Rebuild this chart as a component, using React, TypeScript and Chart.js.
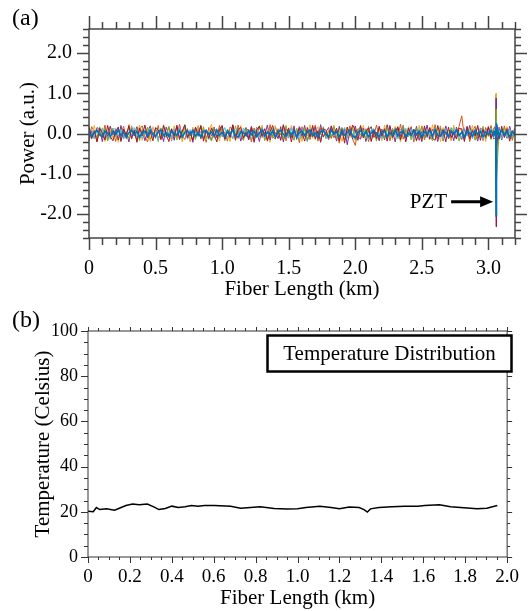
import React, { useEffect, useRef } from "react";
import { Chart, registerables } from "chart.js";

Chart.register(...registerables);

// ---------- Panel (a) data ----------
const LENGTHS_A = [
  0, 0.02, 0.04, 0.06, 0.08, 0.1, 0.12, 0.14, 0.16, 0.18,
  0.2, 0.22, 0.24, 0.26, 0.28, 0.3, 0.32, 0.34, 0.36, 0.38,
  0.4, 0.42, 0.44, 0.46, 0.48, 0.5, 0.52, 0.54, 0.56, 0.58,
  0.6, 0.62, 0.64, 0.66, 0.68, 0.7, 0.72, 0.74, 0.76, 0.78,
  0.8, 0.82, 0.84, 0.86, 0.88, 0.9, 0.92, 0.94, 0.96, 0.98,
  1.0, 1.02, 1.04, 1.06, 1.08, 1.1, 1.12, 1.14, 1.16, 1.18,
  1.2, 1.22, 1.24, 1.26, 1.28, 1.3, 1.32, 1.34, 1.36, 1.38,
  1.4, 1.42, 1.44, 1.46, 1.48, 1.5, 1.52, 1.54, 1.56, 1.58,
  1.6, 1.62, 1.64, 1.66, 1.68, 1.7, 1.72, 1.74, 1.76, 1.78,
  1.8, 1.82, 1.84, 1.86, 1.88, 1.9, 1.92, 1.94, 1.96, 1.98,
  2.0, 2.02, 2.04, 2.06, 2.08, 2.1, 2.12, 2.14, 2.16, 2.18,
  2.2, 2.22, 2.24, 2.26, 2.28, 2.3, 2.32, 2.34, 2.36, 2.38,
  2.4, 2.42, 2.44, 2.46, 2.48, 2.5, 2.52, 2.54, 2.56, 2.58,
  2.6, 2.62, 2.64, 2.66, 2.68, 2.7, 2.72, 2.74, 2.76, 2.78,
  2.8, 2.82, 2.84, 2.86, 2.88, 2.9, 2.92, 2.94, 2.96, 2.98,
  3.0, 3.02, 3.04,
  3.055, 3.058, 3.061,
  3.08, 3.1, 3.12, 3.14, 3.16, 3.18, 3.2,
];

const POWER_BLUE = [
  0.04, -0.06, 0.02, 0.08, -0.03, -0.08, 0.05, 0.01, -0.07, 0.06,
  -0.02, 0.09, -0.05, 0.03, -0.09, 0.02, 0.07, -0.04, 0.05, -0.08,
  0.01, 0.06, -0.06, 0.08, -0.02, -0.07, 0.04, 0.09, -0.05, 0.02,
  -0.08, 0.05, 0.0, -0.04, 0.07, -0.09, 0.03, 0.06, -0.03, 0.08,
  -0.06, 0.02, -0.09, 0.05, 0.07, -0.02, 0.04, -0.07, 0.09, -0.04,
  0.03, -0.08, 0.06, -0.01, 0.08, -0.05, -0.09, 0.04, 0.02, -0.06,
  0.07, -0.03, 0.05, -0.08, 0.01, 0.09, -0.06, 0.03, -0.04, 0.06,
  -0.09, 0.04, 0.08, -0.02, -0.07, 0.05, -0.03, 0.07, -0.08, 0.02,
  0.06, -0.05, 0.03, 0.09, -0.06, 0.01, -0.09, 0.05, 0.07, -0.03,
  -0.07, 0.08, -0.01, 0.04, -0.08, 0.06, -0.04, 0.02, 0.09, -0.06,
  -0.1, 0.03, 0.07, -0.05, 0.05, -0.08, 0.01, 0.08, -0.03, -0.07,
  0.04, 0.06, -0.09, 0.02, -0.04, 0.09, -0.06, 0.03, 0.05, -0.08,
  0.01, -0.05, 0.08, -0.03, 0.06, -0.09, 0.04, -0.01, 0.07, -0.06,
  0.09, -0.04, -0.07, 0.05, 0.02, -0.08, 0.06, -0.02, 0.08, -0.05,
  0.03, -0.09, 0.06, 0.01, -0.06, 0.08, -0.03, 0.05, -0.07, 0.04,
  -0.02, 0.07, -0.05,
  0.1, -2.05, 0.25,
  -0.06, 0.08, -0.03, 0.05, -0.08, 0.04, -0.02,
];
const POWER_ORANGE = [
  -0.12, 0.17, 0.05, -0.19, 0.1, -0.06, 0.21, -0.15, 0.02, 0.13,
  -0.2, 0.08, -0.04, 0.18, -0.13, 0.22, -0.09, 0.03, -0.17, 0.11,
  0.19, -0.07, -0.21, 0.14, 0.04, -0.12, 0.2, -0.16, 0.07, -0.03,
  0.16, -0.18, 0.09, -0.1, 0.23, -0.05, -0.15, 0.12, -0.2, 0.06,
  0.02, 0.18, -0.14, 0.08, -0.22, 0.15, -0.06, 0.11, -0.11, 0.2,
  -0.08, 0.04, -0.19, 0.16, 0.09, -0.13, 0.21, -0.02, -0.17, 0.13,
  0.07, -0.21, 0.14, -0.05, 0.19, -0.1, 0.03, -0.16, 0.22, -0.08,
  -0.14, 0.12, -0.03, 0.2, -0.18, 0.06, 0.15, -0.12, 0.1, -0.23,
  0.17, -0.06, 0.09, -0.15, 0.04, 0.21, -0.19, 0.13, -0.07, 0.02,
  -0.16, 0.18, -0.11, 0.07, -0.24, 0.14, 0.05, -0.09, 0.19, -0.13,
  -0.3, 0.1, 0.16, -0.07, 0.12, -0.2, 0.08, -0.04, 0.21, -0.15,
  0.06, -0.12, 0.2, -0.18, 0.03, 0.15, -0.09, 0.23, -0.14, 0.09,
  -0.05, 0.17, -0.21, 0.11, -0.08, 0.19, -0.16, 0.04, 0.13, -0.1,
  0.22, -0.13, 0.07, -0.19, 0.16, -0.02, -0.17, 0.1, -0.06, 0.18,
  0.44, -0.09, 0.14, -0.2, 0.05, 0.18, -0.12, 0.09, -0.18, 0.15,
  -0.07, 0.2, -0.14,
  -0.1, 0.98, -0.6,
  0.16, -0.11, 0.19, -0.05, 0.12, -0.17, 0.08,
];
const POWER_YELLOW = [
  0.14, -0.09, 0.2, -0.16, -0.03, 0.11, -0.2, 0.07, 0.18, -0.12,
  0.05, -0.22, 0.15, 0.02, -0.1, 0.19, -0.14, 0.09, -0.05, 0.21,
  -0.17, 0.06, 0.12, -0.2, 0.17, -0.04, 0.08, -0.13, 0.22, -0.09,
  0.03, -0.15, 0.19, -0.07, 0.1, -0.21, 0.14, 0.01, -0.18, 0.16,
  -0.11, 0.2, -0.05, 0.13, -0.16, 0.06, 0.23, -0.12, 0.04, -0.19,
  0.15, -0.08, 0.09, -0.2, 0.18, -0.03, -0.14, 0.2, -0.1, 0.07,
  -0.05, 0.16, -0.18, 0.11, -0.02, 0.21, -0.15, 0.08, -0.22, 0.13,
  0.19, -0.11, 0.04, -0.17, 0.15, -0.07, 0.2, -0.13, 0.06, 0.1,
  -0.2, 0.14, -0.06, 0.22, -0.12, 0.03, 0.17, -0.19, 0.11, -0.04,
  0.08, -0.14, 0.21, -0.09, 0.13, -0.2, 0.05, 0.16, -0.1, 0.19,
  -0.15, 0.07, -0.12, 0.2, -0.03, 0.15, -0.19, 0.1, -0.08, 0.14,
  -0.18, 0.21, -0.06, 0.09, -0.15, 0.18, 0.02, -0.21, 0.12, -0.04,
  0.17, -0.1, 0.06, -0.19, 0.2, -0.13, 0.08, -0.06, -0.16, 0.22,
  -0.08, 0.12, -0.2, 0.15, -0.04, 0.1, -0.17, 0.21, -0.11, 0.05,
  0.13, -0.18, 0.09, -0.07, 0.2, -0.14, 0.16, -0.02, 0.11, -0.2,
  0.18, -0.09, 0.14,
  0.15, 1.0, -0.45,
  -0.15, 0.1, -0.08, 0.17, -0.13, 0.06, 0.12,
];
const POWER_PURPLE = [
  -0.19, 0.06, -0.12, 0.15, 0.09, -0.2, 0.12, -0.07, 0.18, -0.04,
  0.1, -0.16, 0.2, -0.11, 0.04, -0.21, 0.14, -0.02, 0.17, -0.13,
  0.08, -0.18, 0.03, 0.19, -0.09, 0.13, -0.15, 0.06, -0.2, 0.16,
  -0.05, 0.11, -0.17, 0.21, -0.12, 0.02, 0.18, -0.1, 0.07, -0.22,
  0.14, -0.06, 0.19, -0.14, 0.1, -0.03, -0.18, 0.16, -0.09, 0.05,
  0.2, -0.15, 0.07, -0.1, 0.22, -0.06, 0.12, -0.19, 0.04, 0.15,
  -0.12, 0.18, -0.08, 0.03, -0.2, 0.14, -0.04, 0.21, -0.16, 0.09,
  0.02, -0.13, 0.17, -0.21, 0.11, 0.06, -0.1, 0.19, -0.15, 0.13,
  -0.07, 0.2, -0.18, 0.08, -0.03, 0.16, -0.12, 0.22, -0.09, 0.04,
  0.15, -0.11, 0.06, -0.19, 0.18, -0.05, 0.12, -0.28, 0.09, -0.14,
  0.19, -0.08, -0.14, 0.13, -0.2, 0.07, 0.17, -0.1, 0.03, -0.18,
  0.11, -0.16, 0.22, -0.05, 0.09, -0.21, 0.14, -0.07, 0.2, -0.12,
  -0.03, 0.15, -0.11, 0.18, -0.17, 0.05, -0.08, 0.21, -0.14, 0.1,
  0.06, -0.2, 0.13, -0.09, 0.19, -0.13, 0.08, -0.18, 0.16, -0.02,
  -0.15, 0.11, -0.06, 0.2, -0.1, 0.03, -0.19, 0.14, 0.07, -0.12,
  0.17, -0.08, 0.1,
  0.2, 0.88, -0.3,
  0.11, -0.16, 0.05, -0.12, 0.18, -0.07, 0.14,
];
const POWER_GREEN = [
  0.09, -0.14, 0.03, -0.1, 0.17, -0.05, 0.13, -0.19, 0.06, 0.11,
  -0.08, 0.15, -0.17, 0.07, 0.01, -0.12, 0.19, -0.06, 0.1, -0.18,
  0.12, -0.03, 0.16, -0.14, -0.06, 0.09, -0.2, 0.14, 0.02, -0.1,
  0.18, -0.08, 0.05, -0.16, 0.12, -0.04, 0.2, -0.13, -0.02, 0.08,
  -0.15, 0.1, -0.07, 0.17, -0.11, 0.04, -0.19, 0.13, 0.06, -0.09,
  0.14, -0.18, 0.11, 0.03, -0.13, 0.19, -0.05, 0.08, -0.16, 0.12,
  -0.02, 0.07, -0.15, 0.16, -0.09, 0.12, -0.18, 0.05, 0.1, -0.12,
  0.16, -0.06, 0.09, -0.13, 0.2, -0.1, 0.04, -0.17, 0.13, -0.04,
  -0.11, 0.14, -0.2, 0.06, 0.11, -0.15, 0.08, -0.03, 0.17, -0.13,
  0.05, -0.09, 0.18, -0.12, 0.02, 0.15, -0.16, 0.1, -0.06, 0.13,
  -0.17, 0.12, -0.04, 0.09, -0.14, 0.18, -0.08, 0.04, -0.19, 0.15,
  0.03, -0.12, 0.16, -0.1, 0.13, -0.05, 0.08, -0.17, 0.19, -0.07,
  0.1, -0.16, 0.05, 0.14, -0.09, 0.17, -0.13, 0.07, -0.04, -0.18,
  0.13, -0.07, 0.19, -0.14, 0.06, -0.1, 0.15, -0.03, 0.11, -0.19,
  0.07, -0.13, 0.16, -0.05, 0.1, -0.17, 0.04, -0.09, 0.18, -0.11,
  0.06, -0.15, 0.12,
  -0.1, 0.6, -1.2,
  0.09, -0.05, 0.13, -0.1, 0.04, -0.14, 0.08,
];
const POWER_CYAN = [
  -0.05, 0.11, -0.13, 0.08, -0.02, 0.14, -0.1, 0.04, -0.15, 0.09,
  0.13, -0.06, 0.1, -0.14, 0.05, 0.12, -0.08, 0.15, -0.11, 0.02,
  -0.12, 0.07, -0.03, 0.14, -0.09, 0.11, -0.15, 0.06, 0.09, -0.07,
  0.04, -0.13, 0.12, -0.05, 0.15, -0.1, 0.02, -0.14, 0.1, -0.03,
  0.14, -0.08, 0.06, -0.12, 0.09, -0.15, 0.13, -0.04, 0.07, -0.11,
  -0.02, 0.15, -0.1, 0.05, -0.13, 0.08, 0.11, -0.09, 0.14, -0.06,
  0.1, -0.14, 0.03, 0.12, -0.07, 0.15, -0.11, 0.06, -0.03, 0.13,
  -0.09, 0.05, -0.15, 0.1, 0.02, -0.12, 0.14, -0.06, 0.08, -0.14,
  0.12, -0.03, 0.09, -0.11, 0.15, -0.08, 0.04, -0.13, 0.11, -0.05,
  -0.14, 0.1, -0.06, 0.13, -0.1, 0.03, 0.15, -0.12, 0.07, -0.09,
  0.06, -0.11, 0.14, -0.04, 0.1, -0.15, 0.08, 0.12, -0.07, 0.03,
  -0.13, 0.09, -0.05, 0.15, -0.1, 0.06, -0.14, 0.11, -0.02, 0.13,
  -0.08, 0.12, -0.15, 0.04, 0.1, -0.06, 0.14, -0.11, 0.07, -0.13,
  0.11, -0.04, 0.08, -0.14, 0.13, -0.09, 0.05, 0.15, -0.12, 0.02,
  -0.1, 0.14, -0.07, 0.1, -0.13, 0.06, -0.02, 0.12, -0.15, 0.09,
  -0.04, 0.13, -0.1,
  0.1, -1.6, 0.2,
  0.08, -0.13, 0.06, -0.09, 0.12, -0.05, 0.1,
];
const POWER_RED = [
  0.18, -0.12, 0.07, -0.21, 0.13, 0.02, -0.16, 0.2, -0.08, -0.18,
  0.05, 0.16, -0.2, 0.11, -0.04, 0.19, -0.13, 0.08, -0.22, 0.14,
  -0.06, 0.21, -0.11, 0.04, -0.18, 0.15, 0.09, -0.14, 0.2, -0.03,
  -0.2, 0.12, -0.07, 0.18, -0.15, 0.06, 0.22, -0.1, 0.03, -0.17,
  0.16, -0.05, 0.2, -0.19, 0.08, -0.12, 0.14, -0.02, -0.21, 0.11,
  0.19, -0.14, 0.04, -0.08, 0.21, -0.17, 0.1, 0.15, -0.11, 0.03,
  -0.16, 0.13, -0.22, 0.09, 0.18, -0.06, 0.12, -0.19, 0.05, 0.2,
  -0.1, 0.07, -0.17, 0.22, -0.04, 0.14, -0.21, 0.1, -0.07, 0.17,
  0.03, -0.19, 0.15, -0.09, 0.2, -0.13, 0.06, -0.22, 0.12, 0.08,
  -0.12, 0.19, -0.03, 0.13, -0.18, 0.1, -0.24, 0.16, -0.05, 0.21,
  0.09, -0.17, 0.2, -0.11, 0.05, 0.14, -0.2, 0.07, -0.13, 0.18,
  -0.07, 0.12, -0.19, 0.2, -0.1, 0.03, 0.17, -0.15, 0.09, -0.21,
  0.14, -0.04, 0.11, -0.18, 0.06, -0.2, 0.19, -0.08, 0.15, -0.12,
  -0.17, 0.2, -0.06, 0.1, -0.21, 0.16, -0.1, 0.04, -0.14, 0.13,
  0.11, -0.2, 0.18, -0.13, 0.07, -0.06, 0.2, -0.17, 0.1, -0.08,
  0.15, -0.12, 0.05,
  0.05, -2.32, 0.1,
  -0.14, 0.18, -0.1, 0.12, -0.19, 0.07, -0.06,
];

const X_TICKS_A = [0, 0.5, 1, 1.5, 2, 2.5, 3];
const X_LABELS_A = ["0", "0.5", "1.0", "1.5", "2.0", "2.5", "3.0"];
const Y_TICKS_A = [-2, -1, 0, 1, 2];
const Y_LABELS_A = ["-2.0", "-1.0", "0.0", "1.0", "2.0"];

const PZT_LENGTH = 3.058;
const PZT_ARROW_LEVEL = -1.7;

// ---------- Panel (b) data ----------
const LENGTHS_B = [
  0, 0.025, 0.04, 0.056, 0.088, 0.127, 0.158, 0.181, 0.213, 0.244,
  0.283, 0.314, 0.338, 0.369, 0.4, 0.431, 0.463, 0.494, 0.525, 0.556,
  0.603, 0.681, 0.728, 0.775, 0.822, 0.888, 0.95, 1.0, 1.04, 1.106,
  1.16, 1.2, 1.247, 1.294, 1.317, 1.333, 1.348, 1.388, 1.45, 1.513,
  1.575, 1.606, 1.677, 1.73, 1.794, 1.856, 1.903, 1.953,
];
const TEMPERATURE = [
  20.3, 20.0, 21.9, 21.0, 21.3, 20.7, 21.9, 22.8, 23.4, 23.1,
  23.4, 22.2, 21.0, 21.5, 22.5, 21.9, 22.2, 22.8, 22.5, 22.8,
  22.8, 22.5, 21.6, 21.9, 22.2, 21.5, 21.2, 21.3, 21.9, 22.4,
  21.9, 21.3, 22.1, 21.9, 21.0, 19.9, 21.3, 21.9, 22.2, 22.5,
  22.5, 22.8, 23.1, 22.2, 21.8, 21.3, 21.6, 22.8,
];
const X_TICKS_B = [0, 0.2, 0.4, 0.6, 0.8, 1.0, 1.2, 1.4, 1.6, 1.8, 2.0];
const X_LABELS_B = ["0", "0.2", "0.4", "0.6", "0.8", "1.0", "1.2", "1.4", "1.6", "1.8", "2.0"];
const Y_TICKS_B = [0, 20, 40, 60, 80, 100];
const Y_LABELS_B = ["0", "20", "40", "60", "80", "100"];

const SERIF = "'Liberation Serif', 'Times New Roman', serif";

function makeFrameTicks(cfg: any) {
  return {
    id: "frameTicks",
    afterDatasetsDraw(chart: any) {
      const { ctx, chartArea: a, scales } = chart;
      const xs = scales.x;
      const ys = scales.y;
      ctx.save();
      ctx.strokeStyle = cfg.color;
      ctx.lineWidth = cfg.lw;
      ctx.lineCap = "butt";
      ctx.strokeRect(a.left, a.top, a.right - a.left, a.bottom - a.top);
      ctx.beginPath();
      const nx = Math.round((xs.max - xs.min) / cfg.xMinor);
      for (let i = 0; i <= nx; i++) {
        const v = xs.min + i * cfg.xMinor;
        const r = v / cfg.xMajor;
        const major = Math.abs(r - Math.round(r)) < 1e-6;
        const p = Math.round(xs.getPixelForValue(v)) + 0.5;
        ctx.moveTo(p, a.bottom);
        ctx.lineTo(p, a.bottom + (major ? cfg.xMajB : cfg.xMinB));
        ctx.moveTo(p, a.top);
        ctx.lineTo(p, a.top - (major ? cfg.xMajT : cfg.xMinT));
      }
      const ny = Math.round((ys.max - ys.min) / cfg.yMinor);
      for (let i = 0; i <= ny; i++) {
        const v = ys.min + i * cfg.yMinor;
        const r = v / cfg.yMajor;
        const major = Math.abs(r - Math.round(r)) < 1e-6;
        const p = Math.round(ys.getPixelForValue(v)) + 0.5;
        ctx.moveTo(a.left, p);
        ctx.lineTo(a.left - (major ? cfg.yMajL : cfg.yMinL), p);
        ctx.moveTo(a.right, p);
        ctx.lineTo(a.right + (major ? cfg.yMajR : cfg.yMinR), p);
      }
      ctx.stroke();
      ctx.restore();
    },
  };
}

const annotA = {
  id: "annotA",
  afterDraw(chart: any) {
    const { ctx, scales } = chart;
    ctx.save();
    ctx.fillStyle = "#000";
    ctx.font = `24px ${SERIF}`;
    ctx.textAlign = "left";
    ctx.textBaseline = "middle";
    ctx.fillText("(a)", 12, 19);
    const tipX = scales.x.getPixelForValue(PZT_LENGTH) - 3;
    const y = scales.y.getPixelForValue(PZT_ARROW_LEVEL);
    ctx.font = `21px ${SERIF}`;
    ctx.textAlign = "right";
    ctx.fillText("PZT", tipX - 46, y + 1);
    ctx.strokeStyle = "#000";
    ctx.lineWidth = 3;
    ctx.beginPath();
    ctx.moveTo(tipX - 42, y);
    ctx.lineTo(tipX - 10, y);
    ctx.stroke();
    ctx.beginPath();
    ctx.moveTo(tipX, y);
    ctx.lineTo(tipX - 13, y - 5.5);
    ctx.lineTo(tipX - 13, y + 5.5);
    ctx.closePath();
    ctx.fill();
    ctx.restore();
  },
};

const annotB = {
  id: "annotB",
  afterDraw(chart: any) {
    const { ctx, chartArea: a } = chart;
    ctx.save();
    ctx.fillStyle = "#000";
    ctx.font = `24px ${SERIF}`;
    ctx.textAlign = "left";
    ctx.textBaseline = "middle";
    ctx.fillText("(b)", 12, 21);
    const bx = a.left + 179.5;
    const by = a.top + 4.5;
    const bw = 244;
    const bh = 36;
    ctx.fillStyle = "#fff";
    ctx.fillRect(bx, by, bw, bh);
    ctx.strokeStyle = "#000";
    ctx.lineWidth = 2.5;
    ctx.strokeRect(bx, by, bw, bh);
    ctx.fillStyle = "#000";
    ctx.font = `21px ${SERIF}`;
    ctx.textAlign = "center";
    ctx.fillText("Temperature Distribution", bx + bw / 2, by + bh / 2 + 1);
    ctx.restore();
  },
};

function pts(xs: number[], ys: number[]) {
  return xs.map((x, i) => ({ x, y: ys[i] }));
}

function labelFrom(ticks: number[], labels: string[]) {
  return (v: any) => {
    const i = ticks.findIndex((t) => Math.abs(t - v) < 1e-9);
    return i >= 0 ? labels[i] : "";
  };
}

export default function App() {
  const refA = useRef<HTMLCanvasElement>(null);
  const refB = useRef<HTMLCanvasElement>(null);

  useEffect(() => {
    const series = [
      { d: POWER_BLUE, c: "#0072BD", w: 1.6 },
      { d: POWER_RED, c: "#A2142F", w: 1 },
      { d: POWER_CYAN, c: "#4DBEEE", w: 1 },
      { d: POWER_GREEN, c: "#77AC30", w: 1 },
      { d: POWER_PURPLE, c: "#7E2F8E", w: 1 },
      { d: POWER_YELLOW, c: "#EDB120", w: 1 },
      { d: POWER_ORANGE, c: "#D95319", w: 1 },
    ];
    const chartA = new Chart(refA.current!, {
      type: "line",
      data: {
        datasets: series.map((s) => ({
          data: pts(LENGTHS_A, s.d),
          borderColor: s.c,
          borderWidth: s.w,
          pointRadius: 0,
          tension: 0,
          fill: false,
        })),
      },
      options: {
        animation: false,
        responsive: false,
        events: [],
        layout: { padding: { left: 0, right: 13, top: 24, bottom: 0 } },
        plugins: { legend: { display: false }, tooltip: { enabled: false } },
        scales: {
          x: {
            type: "linear",
            min: 0,
            max: 3.2,
            grid: { display: false, drawTicks: false },
            border: { display: false },
            afterBuildTicks: (s: any) => {
              s.ticks = X_TICKS_A.map((v) => ({ value: v }));
            },
            afterFit: (s: any) => {
              s.height = 62;
            },
            ticks: {
              callback: labelFrom(X_TICKS_A, X_LABELS_A),
              font: { family: SERIF, size: 20 },
              color: "#000",
              padding: 19,
              maxRotation: 0,
              autoSkip: false,
            },
            title: {
              display: true,
              text: "Fiber Length (km)",
              font: { family: SERIF, size: 21, lineHeight: 1 },
              color: "#000",
              padding: { top: 0, bottom: 0 },
            },
          },
          y: {
            type: "linear",
            min: -2.6,
            max: 2.6,
            grid: { display: false, drawTicks: false },
            border: { display: false },
            afterBuildTicks: (s: any) => {
              s.ticks = Y_TICKS_A.map((v) => ({ value: v }));
            },
            afterFit: (s: any) => {
              s.width = 89;
            },
            ticks: {
              callback: labelFrom(Y_TICKS_A, Y_LABELS_A),
              font: { family: SERIF, size: 20 },
              color: "#000",
              padding: 17,
              autoSkip: false,
            },
            title: {
              display: true,
              text: "Power (a.u.)",
              font: { family: SERIF, size: 21, lineHeight: 1 },
              color: "#000",
              padding: { top: 18, bottom: 0 },
            },
          },
        },
      },
      plugins: [
        makeFrameTicks({
          color: "#444",
          lw: 1.5,
          xMinor: 0.1,
          xMajor: 0.5,
          yMinor: 0.2,
          yMajor: 1,
          xMajB: 12,
          xMinB: 7,
          xMajT: 13,
          xMinT: 7,
          yMajL: 12,
          yMinL: 6,
          yMajR: 12,
          yMinR: 6,
        }),
        annotA,
      ],
    } as any);

    const chartB = new Chart(refB.current!, {
      type: "line",
      data: {
        datasets: [
          {
            data: pts(LENGTHS_B, TEMPERATURE),
            borderColor: "#000",
            borderWidth: 1.5,
            pointRadius: 0,
            tension: 0,
            fill: false,
          },
        ],
      },
      options: {
        animation: false,
        responsive: false,
        events: [],
        layout: { padding: { left: 0, right: 14, top: 31, bottom: 0 } },
        plugins: { legend: { display: false }, tooltip: { enabled: false } },
        scales: {
          x: {
            type: "linear",
            min: 0,
            max: 2,
            grid: { display: false, drawTicks: false },
            border: { display: false },
            afterBuildTicks: (s: any) => {
              s.ticks = X_TICKS_B.map((v) => ({ value: v }));
            },
            afterFit: (s: any) => {
              s.height = 54;
            },
            ticks: {
              callback: labelFrom(X_TICKS_B, X_LABELS_B),
              font: { family: SERIF, size: 19 },
              color: "#000",
              padding: 9,
              maxRotation: 0,
              autoSkip: false,
            },
            title: {
              display: true,
              text: "Fiber Length (km)",
              font: { family: SERIF, size: 21, lineHeight: 1 },
              color: "#000",
              padding: { top: 0, bottom: 2 },
            },
          },
          y: {
            type: "linear",
            min: 0,
            max: 100,
            grid: { display: false, drawTicks: false },
            border: { display: false },
            afterBuildTicks: (s: any) => {
              s.ticks = Y_TICKS_B.map((v) => ({ value: v }));
            },
            afterFit: (s: any) => {
              s.width = 88;
            },
            ticks: {
              callback: labelFrom(Y_TICKS_B, Y_LABELS_B),
              font: { family: SERIF, size: 18 },
              color: "#000",
              padding: 10,
              autoSkip: false,
            },
            title: {
              display: true,
              text: "Temperature (Celsius)",
              font: { family: SERIF, size: 21, lineHeight: 1 },
              color: "#000",
              padding: { top: 33, bottom: 0 },
            },
          },
        },
      },
      plugins: [
        makeFrameTicks({
          color: "#333",
          lw: 1,
          xMinor: 0.05,
          xMajor: 0.2,
          yMinor: 5,
          yMajor: 20,
          xMajB: 6,
          xMinB: 3,
          xMajT: 4,
          xMinT: 3,
          yMajL: 7,
          yMinL: 4,
          yMajR: 5,
          yMinR: 3,
        }),
        annotB,
      ],
    } as any);

    return () => {
      chartA.destroy();
      chartB.destroy();
    };
  }, []);

  return (
    <div style={{ position: "absolute", left: 0, top: 0, width: 528, height: 611, background: "#fff" }}>
      <canvas
        ref={refA}
        width={528}
        height={300}
        style={{ position: "absolute", left: 0, top: 0, width: 528, height: 300, display: "block" }}
      />
      <canvas
        ref={refB}
        width={528}
        height={311}
        style={{ position: "absolute", left: 0, top: 300, width: 528, height: 311, display: "block" }}
      />
    </div>
  );
}
